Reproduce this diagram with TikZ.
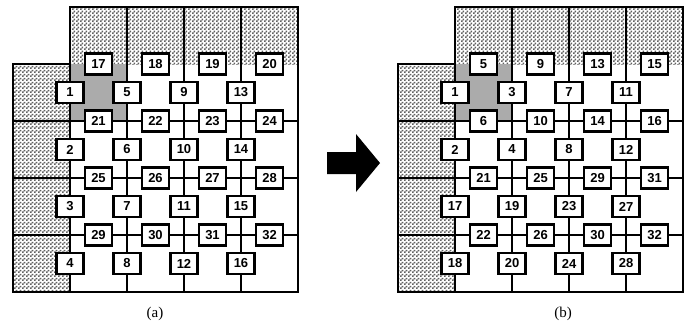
\documentclass[tikz,border=0pt]{standalone}
\usepackage{fontspec}
\setmainfont{Liberation Sans}
\newfontfamily\capfont{Liberation Serif}
\usetikzlibrary{patterns}

% fine checkerboard used for the shaded border cells
\pgfdeclarepatternformonly{checker}{\pgfpointorigin}{\pgfqpoint{3.6pt}{3.6pt}}{\pgfqpoint{3.6pt}{3.6pt}}{%
  \pgfpathrectangle{\pgfpointorigin}{\pgfqpoint{1.8pt}{1.8pt}}%
  \pgfpathrectangle{\pgfqpoint{1.8pt}{1.8pt}}{\pgfqpoint{1.8pt}{1.8pt}}%
  \pgfusepath{fill}}

\tikzset{
  cellbox/.style={draw, line width=2.2pt, fill=white, minimum width=27pt,
    minimum height=21pt, inner sep=0pt, font=\bfseries\fontsize{13}{13}\selectfont},
  wire/.style={line width=1.1pt, black},
  shade/.style={pattern=checker, pattern color=black!62},
  caption/.style={font=\capfont\fontsize{15}{18}\selectfont}
}

% #1 x offset, #2 name prefix, #3 labels of edge boxes (by row), #4 labels of boxes on vertical lines (by column)
\newcommand{\meshpanel}[4]{%
  \begin{scope}[xshift=#1]
    \foreach \i in {0,...,5}
      \foreach \j in {0,...,5}
        \coordinate (#2c\i\j) at (13+57*\i, 7+57*\j);
    % shaded border cells and the highlighted cell
    \fill[shade] (#2c10) rectangle (#2c51);
    \fill[shade] (#2c01) rectangle (#2c15);
    \fill[black!33] (#2c11) rectangle (#2c22);
    % boxes on horizontal edges
    \foreach \row [count=\j] in {#3}
      \foreach \lab [count=\i] in \row
        \node[cellbox] (#2h\i\j) at (13+57*\i+28.5, 7+57*\j) {\lab};
    % boxes on vertical edges
    \foreach \col [count=\i] in {#4}
      \foreach \lab [count=\j] in \col
        \node[cellbox] (#2v\i\j) at (13+57*\i, 7+57*\j+28.5) {\lab};
    % outline
    \draw[wire] (#2c01) -- (#2c11) -- (#2c10) -- (#2c50) -- (#2c55) -- (#2c05) -- cycle;
    % vertical wires
    \foreach \i in {1,...,4}
      \draw[wire] (#2c\i0) -- (#2v\i1) -- (#2v\i2) -- (#2v\i3) -- (#2v\i4) -- (#2c\i5);
    % horizontal wires
    \foreach \j in {2,3,4}
      \draw[wire] (#2c0\j) -- (#2c1\j) -- (#2h1\j) -- (#2h2\j) -- (#2h3\j) -- (#2h4\j) -- (#2c5\j);
  \end{scope}%
}

\begin{document}
\begin{tikzpicture}[x=1pt, y=-1pt]
  \useasboundingbox (0,0) rectangle (689,325);

  \meshpanel{0pt}{a}
    {{17,18,19,20},{21,22,23,24},{25,26,27,28},{29,30,31,32}}
    {{1,2,3,4},{5,6,7,8},{9,10,11,12},{13,14,15,16}}

  \meshpanel{385pt}{b}
    {{5,9,13,15},{6,10,14,16},{21,25,29,31},{22,26,30,32}}
    {{1,2,17,18},{3,4,19,20},{7,8,23,24},{11,12,27,28}}

  % block arrow between the panels
  \fill (327,152) -- (356,152) -- (356,134) -- (380,163) -- (356,192)
        -- (356,174) -- (327,174) -- cycle;

  \node[caption] (capa) at (155,314) {(a)};
  \node[caption] (capb) at (563,314) {(b)};
\end{tikzpicture}
\end{document}
